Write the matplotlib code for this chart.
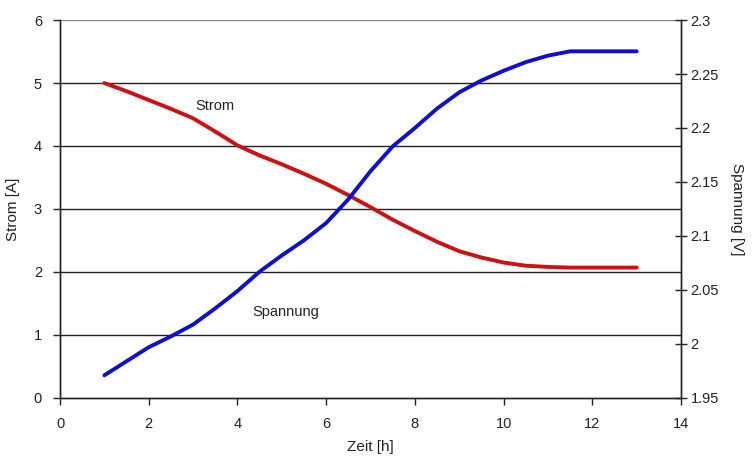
import matplotlib.pyplot as plt

plt.rcParams['font.family'] = ['Liberation Sans', 'DejaVu Sans']

# Messwerte: Zeit in Stunden
zeit = [1, 1.5, 2, 2.5, 3, 3.5, 4, 4.5, 5, 5.5, 6, 6.5, 7, 7.5, 8, 8.5,
        9, 9.5, 10, 10.5, 11, 11.5, 12, 12.5, 13]
# Strom in A (linke Achse)
strom = [5.0, 4.87, 4.73, 4.59, 4.44, 4.23, 4.01, 3.85, 3.71, 3.56, 3.40,
         3.22, 3.03, 2.83, 2.65, 2.48, 2.33, 2.23, 2.15, 2.10, 2.08, 2.07,
         2.07, 2.07, 2.07]
# Spannung in V (rechte Achse)
spannung = [1.971, 1.984, 1.997, 2.007, 2.018, 2.033, 2.049, 2.067, 2.082,
            2.096, 2.112, 2.134, 2.160, 2.183, 2.200, 2.218, 2.233, 2.244,
            2.253, 2.261, 2.267, 2.271, 2.271, 2.271, 2.271]

fig = plt.figure(figsize=(7.52, 4.61), dpi=100)
ax = fig.add_axes([0.0798, 0.1367, 0.8258, 0.8199])
ax2 = ax.twinx()

# horizontale Gitterlinien
for v in range(1, 7):
    ax.axhline(v, color='#222222' if v < 6 else '#888888', lw=1, zorder=1)

ax.plot(zeit, strom, color='#cc1111', lw=2.8, zorder=3,
        solid_joinstyle='round', solid_capstyle='round')
ax2.plot(zeit, spannung, color='#1010cc', lw=2.8, zorder=3,
         solid_joinstyle='round', solid_capstyle='round')

ax.set_xlim(0, 14)
ax.set_ylim(0, 6)
ax2.set_ylim(1.95, 2.3)
ax.set_xticks(range(0, 15, 2))
ax.set_yticks(range(0, 7))
ax2.set_yticks([1.95, 2.0, 2.05, 2.1, 2.15, 2.2, 2.25, 2.3])
ax2.set_yticklabels(['1.95', '2', '2.05', '2.1', '2.15', '2.2', '2.25', '2.3'])

for a in (ax, ax2):
    a.spines['top'].set_visible(False)
    for s in ('left', 'right', 'bottom'):
        a.spines[s].set_color('#222222')
        a.spines[s].set_linewidth(1)
    a.tick_params(colors='#222222', labelsize=10.5, width=1, length=5)
ax.tick_params(axis='y', direction='out', pad=8)
ax.tick_params(axis='x', direction='out', pad=9)
ax2.tick_params(axis='y', direction='inout', length=8, pad=3)

ax.set_xlabel('Zeit [h]', fontsize=11, color='#222222', labelpad=6)
ax.set_ylabel('Strom [A]', fontsize=11, color='#222222', labelpad=10)
ax2.set_ylabel('Spannung [V]', fontsize=11, color='#222222', rotation=-90, labelpad=18)

ax.text(3.5, 4.63, 'Strom', fontsize=10.5, color='#222222', ha='center', va='center', zorder=4)
ax.text(5.1, 1.37, 'Spannung', fontsize=10.5, color='#222222', ha='center', va='center', zorder=4)

fig.savefig('out.png', dpi=100)
